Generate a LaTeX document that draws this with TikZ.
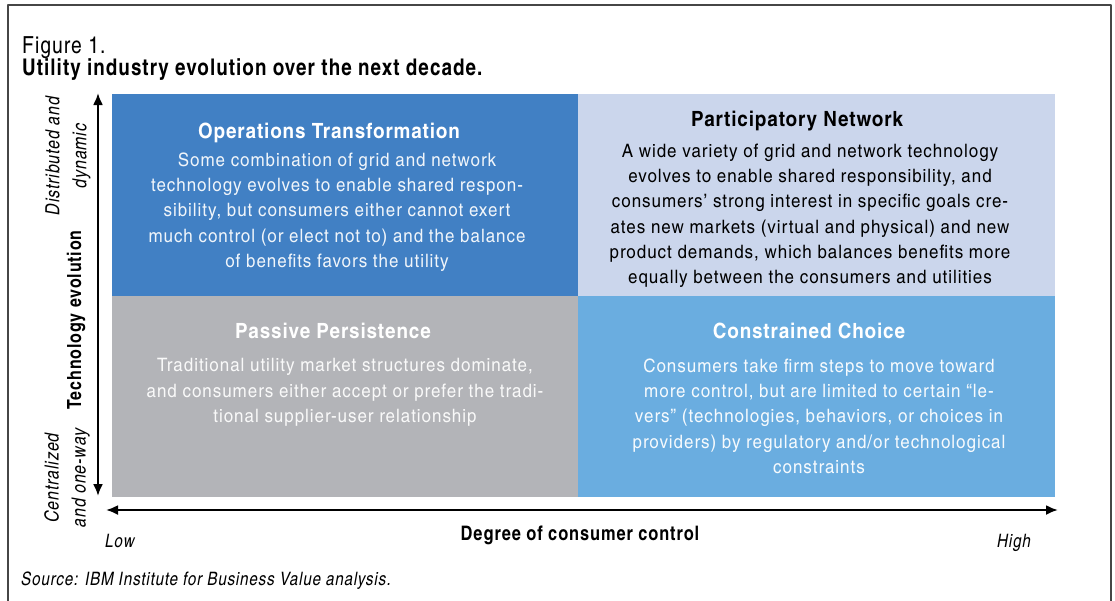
\documentclass[tikz,border=0pt]{standalone}
\usepackage{fontspec}
\setmainfont{texgyreheroscn}[Extension=.otf, UprightFont=*-regular, BoldFont=*-bold, ItalicFont=*-italic, BoldItalicFont=*-bolditalic, LetterSpace=4.5]
\newfontfamily\bodyfont{texgyreheroscn}[Extension=.otf, UprightFont=*-regular, FakeStretch=1.12, LetterSpace=5.2]
\newfontfamily\headfont{texgyreheroscn}[Extension=.otf, UprightFont=*-bold, FakeStretch=1.1, LetterSpace=4]
\usetikzlibrary{arrows.meta}

\definecolor{opsblue}{RGB}{65,128,196}
\definecolor{partblue}{RGB}{203,214,236}
\definecolor{passgray}{RGB}{179,180,184}
\definecolor{choiceblue}{RGB}{106,173,224}
\definecolor{framegray}{RGB}{70,70,70}

\tikzset{
  qtitle/.style={font=\fontsize{21}{24}\selectfont\headfont, anchor=base, inner sep=0pt},
  qbody/.style={font=\fontsize{18.5}{25.3}\selectfont\bodyfont, align=center, anchor=north, inner sep=0pt},
  endlabel/.style={font=\fontsize{19.5}{27}\selectfont\itshape, align=center, rotate=90, inner sep=0pt},
  axisline/.style={line width=2.2pt, {Latex[length=12pt,width=10pt]}-{Latex[length=12pt,width=10pt]}},
}

\begin{document}
\begin{tikzpicture}[x=1pt, y=-1pt, line cap=round, line join=round]

                \useasboundingbox (0,0) rectangle (1115,600);
                \draw[framegray, line width=1.6pt] (8,5) rectangle (1111,610);

                % heading
                \node[anchor=base west, inner sep=0pt, font=\fontsize{23.5}{26}\selectfont] (fig) at (22,53) {Figure 1.};
                \node[anchor=base west, inner sep=0pt, font=\fontsize{23}{26}\selectfont\bfseries] (headline) at (22,75) {Utility industry evolution over the next decade.};

                % the four quadrants
                \fill[opsblue] (112,94) rectangle (578,296);
                \fill[partblue] (578,94) rectangle (1055,296);
                \fill[passgray] (112,296) rectangle (578,497);
                \fill[choiceblue] (578,296) rectangle (1055,497);

                \node[qtitle, white] (opstitle) at (329,138) {Operations Transformation};
                \node[qbody, white!92!opsblue] (opsbody) at (337,152.5) {Some combination of grid and network\\technology evolves to enable shared respon-\\sibility, but consumers either cannot exert\\much control (or elect not to) and the balance\\of benefits favors the utility};

                \node[qtitle, black] (parttitle) at (797,126) {Participatory Network};
                \node[qbody, black] (partbody) at (810,143.5) {A wide variety of grid and network technology\\evolves to enable shared responsibility, and\\consumers’ strong interest in specific goals cre-\\ates new markets (virtual and physical) and new\\product demands, which balances benefits more\\equally between the consumers and utilities};

                \node[qtitle, white] (passtitle) at (333,338) {Passive Persistence};
                \node[qbody, white!92!passgray] (passbody) at (345,358.5) {Traditional utility market structures dominate,\\and consumers either accept or prefer the tradi-\\tional supplier-user relationship};

                \node[qtitle, white] (choicetitle) at (809,338) {Constrained Choice};
                \node[qbody, white!94!choiceblue] (choicebody) at (819,358.5) {Consumers take firm steps to move toward\\more control, but are limited to certain “le-\\vers” (technologies, behaviors, or choices in\\providers) by regulatory and/or technological\\constraints};

                % axes
                \coordinate (vtop) at (98,93);
                \coordinate (vbot) at (98,496);
                \coordinate (hleft) at (106,510);
                \coordinate (hright) at (1058,510);
                \draw[axisline] (vbot) -- (vtop);
                \draw[axisline] (hleft) -- (hright);

                \node[endlabel] (distrib) at (68,156) {Distributed and\\dynamic};
                \node[endlabel] (central) at (67,478) {Centralized\\and one-way};
                \node[rotate=90, inner sep=0pt, font=\fontsize{19.5}{23}\selectfont\bfseries] (techevo) at (76,320) {Technology evolution};

                \node[anchor=base, inner sep=0pt, font=\fontsize{20}{23}\selectfont\bfseries] (control) at (580,540) {Degree of consumer control};
                \node[anchor=base west, inner sep=0pt, font=\fontsize{18.5}{21}\selectfont\itshape] (low) at (105,547) {Low};
                \node[anchor=base east, inner sep=0pt, font=\fontsize{18.5}{21}\selectfont\itshape] (high) at (1031,547) {High};

                \node[anchor=base west, inner sep=0pt, font=\fontsize{18.5}{22}\selectfont\itshape] (source) at (21,585) {Source: IBM Institute for Business Value analysis.};

            \end{tikzpicture}
\end{document}
